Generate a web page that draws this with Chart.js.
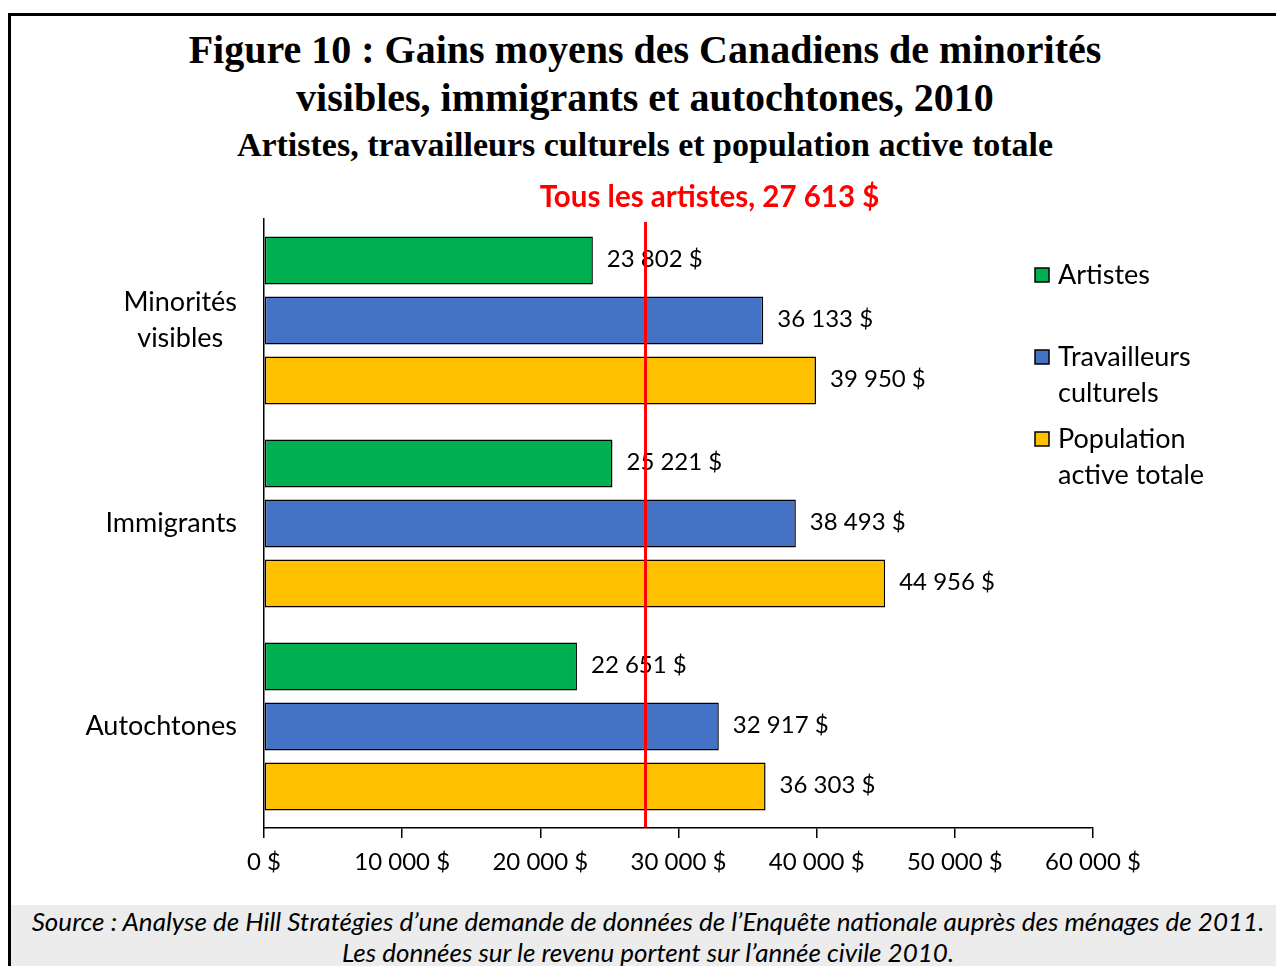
<!DOCTYPE html>
<html lang="fr">
<head>
<meta charset="utf-8">
<title>Figure 10</title>
<script src="https://cdn.jsdelivr.net/npm/chart.js@4.4.1/dist/chart.umd.min.js"></script>
<style>
  body { margin: 0; width: 1276px; height: 966px; overflow: hidden; position: relative; background: #fff; font-family: Lato, sans-serif; }
  .frame { position: absolute; left: 8px; top: 13px; width: 1300px; height: 980px; border-left: 3px solid #000; border-top: 3px solid #000; }
  .title { position: absolute; left: 0; width: 1290px; text-align: center; font-family: 'Liberation Serif', serif; font-weight: bold; color: #000; }
  #t1 { top: 26px; font-size: 40px; line-height: 48px; }
  #t2 { top: 126px; font-size: 34px; line-height: 38px; }
  #chart { position: absolute; left: 0; top: 170px; }
  .footer { position: absolute; left: 11px; top: 905px; width: 1280px; height: 61px; background: #ececec; }
  .footer p { margin: 0; width: 1274px; text-align: center; font-style: italic; font-size: 26px; line-height: 31px; color: #000; }
  .footer p:first-child { margin-top: 1px; }
</style>
</head>
<body>
<div class="frame"></div>
<div class="title" id="t1">Figure 10 : Gains moyens des Canadiens de minorités<br>visibles, immigrants et autochtones, 2010</div>
<div class="title" id="t2">Artistes, travailleurs culturels et population active totale</div>
<canvas id="chart" width="1276" height="735"></canvas>
<div class="footer">
  <p>Source : Analyse de Hill Stratégies d’une demande de données de l’Enquête nationale auprès des ménages de 2011.</p>
  <p>Les données sur le revenu portent sur l’année civile 2010.</p>
</div>
<script>
// categories (y axis) and series
const categories = [['Minorités', 'visibles'], ['Immigrants'], ['Autochtones']];
const seriesLabels = [['Artistes'], ['Travailleurs', 'culturels'], ['Population', 'active totale']];
const artistes = [23802, 25221, 22651];
const travailleurs = [36133, 38493, 32917];
const populationActive = [39950, 44956, 36303];
const tousLesArtistes = 27613;
const xMax = 60000;
const xStep = 10000;
const colors = ['#00B050', '#4472C4', '#FFC000'];

function fmt(v) {
    return String(v).replace(/\B(?=(\d{3})+(?!\d))/g, ' ') + ' $';
}

Chart.defaults.font.family = 'Lato, sans-serif';
Chart.defaults.color = '#000';

// value labels, red reference line and its caption
const barLabels = {
    id: 'barLabels',
    afterDatasetsDraw(chart) {
        const ctx = chart.ctx;
        ctx.save();
        ctx.font = '24px Lato';
        ctx.fillStyle = '#000';
        ctx.textAlign = 'left';
        ctx.textBaseline = 'middle';
        chart.data.datasets.forEach((ds, i) => {
            chart.getDatasetMeta(i).data.forEach((bar, j) => {
                ctx.fillText(fmt(ds.data[j]), bar.x + 14, bar.y - 1);
            });
        });

        const x = chart.scales.x.getPixelForValue(tousLesArtistes);
        ctx.strokeStyle = '#FF0000';
        ctx.lineWidth = 3;
        ctx.beginPath();
        ctx.moveTo(x, 52);
        ctx.lineTo(x, chart.chartArea.bottom - 1);
        ctx.stroke();

        ctx.font = 'bold 29.5px Lato';
        ctx.fillStyle = '#FF0000';
        ctx.textAlign = 'center';
        ctx.textBaseline = 'alphabetic';
        ctx.fillText('Tous les artistes, ' + fmt(tousLesArtistes), x + 64, 37);
        ctx.restore();
    }
};

// category names, lines centred on each other and right edge near the axis
const categoryLabels = {
    id: 'categoryLabels',
    afterDraw(chart) {
        const ctx = chart.ctx;
        const yScale = chart.scales.y;
        ctx.save();
        ctx.font = '27px Lato';
        ctx.fillStyle = '#000';
        ctx.textAlign = 'center';
        ctx.textBaseline = 'middle';
        categories.forEach((lines, i) => {
            const y = yScale.getPixelForValue(i);
            const w = Math.max(...lines.map(l => ctx.measureText(l).width));
            const cx = chart.chartArea.left - 27 - w / 2;
            lines.forEach((l, k) => {
                ctx.fillText(l, cx, y + (k - (lines.length - 1) / 2) * 36);
            });
        });
        ctx.restore();
    }
};

// legend on the right
const sideLegend = {
    id: 'sideLegend',
    afterDraw(chart) {
        const ctx = chart.ctx;
        ctx.save();
        ctx.font = '27px Lato';
        ctx.textAlign = 'left';
        ctx.textBaseline = 'middle';
        seriesLabels.forEach((lines, i) => {
            const y = 105 + i * 82;
            ctx.fillStyle = colors[i];
            ctx.fillRect(1035, y - 7, 14, 14);
            ctx.strokeStyle = '#000';
            ctx.lineWidth = 1.5;
            ctx.strokeRect(1035, y - 7, 14, 14);
            ctx.fillStyle = '#000';
            lines.forEach((l, k) => ctx.fillText(l, 1058, y + k * 36));
        });
        ctx.restore();
    }
};

const ctx = document.getElementById('chart').getContext('2d');
new Chart(ctx, {
    type: 'bar',
    data: {
        labels: categories.map(c => c.join(' ')),
        datasets: [artistes, travailleurs, populationActive].map((d, i) => ({
            label: seriesLabels[i].join(' '),
            data: d,
            backgroundColor: colors[i],
            borderColor: '#000',
            borderWidth: 1.5,
            borderSkipped: false,
            barPercentage: 0.8,
            categoryPercentage: 0.887
        }))
    },
    options: {
        indexAxis: 'y',
        responsive: false,
        devicePixelRatio: 1,
        animation: false,
        layout: { padding: { top: 49, right: 183, bottom: 0, left: 0 } },
        plugins: {
            legend: { display: false },
            tooltip: { enabled: false }
        },
        scales: {
            x: {
                min: 0,
                max: xMax,
                afterFit: s => { s.height = 77; },
                ticks: {
                    stepSize: xStep,
                    callback: v => fmt(v),
                    font: { size: 24 },
                    color: '#000',
                    padding: 10,
                    maxRotation: 0
                },
                grid: { drawOnChartArea: false, drawTicks: true, tickLength: 10, color: '#000', lineWidth: 1.5 },
                border: { display: true, color: '#000', width: 1.5 }
            },
            y: {
                afterFit: s => { s.width = 264; },
                ticks: { display: false },
                grid: { drawOnChartArea: false, drawTicks: false, color: 'rgba(0,0,0,0)' },
                border: { display: true, color: '#000', width: 1.5 }
            }
        }
    },
    plugins: [barLabels, categoryLabels, sideLegend]
});
</script>
</body>
</html>
